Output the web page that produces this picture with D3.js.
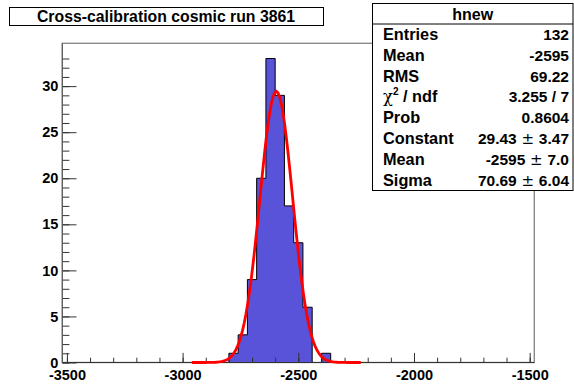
<!DOCTYPE html>
<html>
<head>
<meta charset="utf-8">
<script src="https://cdn.jsdelivr.net/npm/d3@7"></script>
<style>
  body { margin: 0; background: #fff; }
  svg { display: block; font-family: "Liberation Sans", Arial, Helvetica, sans-serif; }
  .lbl { font-weight: bold; }
</style>
</head>
<body>
<svg width="574" height="385"></svg>
<script>
// histogram hnew : bins of 40, axis range -3520 .. -1480
var binLow = [-2800, -2760, -2720, -2680, -2640, -2600, -2560, -2520, -2480, -2440, -2400];
var counts = [1, 3, 9, 20, 33, 29, 17, 13, 6, 0, 1];
var binWidth = 40;
var xRange = [-3520, -1480];
var yMax = 34.65;
var xMajor = [-3500, -3000, -2500, -2000, -1500];
var yMajor = [0, 5, 10, 15, 20, 25, 30];

// gaus fit result
var fitConstant = 29.43, fitMean = -2595, fitSigma = 70.69;
var fitRange = [-2960, -2230];

var titleText = "Cross-calibration cosmic run 3861";
var statName = "hnew";
var statLabels = ["Entries", "Mean", "RMS", "chi2", "Prob", "Constant", "Mean", "Sigma"];
var statValues = ["132", "-2595", "69.22", "3.255 / 7", "0.8604", "29.43 \u00b1 3.47", "-2595 \u00b1 7.0", "70.69 \u00b1 6.04"];

var svg = d3.select("svg"),
  margin = {top: 43.3, right: 39.7, bottom: 22.5, left: 62.3},
  width = +svg.attr("width") - margin.left - margin.right,
  height = +svg.attr("height") - margin.top - margin.bottom,
  g = svg.append("g").attr("transform", "translate(" + margin.left + "," + margin.top + ")");

var x = d3.scaleLinear().domain(xRange).range([0, width]);
var y = d3.scaleLinear().domain([0, yMax]).range([height, 0]);

// frame
g.append("rect")
  .attr("width", width).attr("height", height)
  .attr("fill", "none").attr("stroke", "#8a8a8a").attr("stroke-width", 1.4);

// bins as one step path (fill + outline)
var steps = [];
counts.forEach(function(c, i) {
  steps.push([binLow[i], c]);
  steps.push([binLow[i] + binWidth, c]);
});
steps.unshift([binLow[0], 0]);
steps.push([binLow[binLow.length - 1] + binWidth, 0]);
var stepLine = d3.line().x(function(d) { return x(d[0]); }).y(function(d) { return y(d[1]); });
g.append("path")
  .datum(steps)
  .attr("fill", "#5853d8").attr("stroke", "none")
  .attr("d", stepLine(steps) + "Z");
g.append("path")
  .datum(steps)
  .attr("fill", "none").attr("stroke", "#000").attr("stroke-width", 1)
  .attr("d", stepLine);

// axes
function noDomain(sel) { sel.select(".domain").remove(); }
var xa = g.append("g").attr("transform", "translate(0," + height + ")");
xa.append("g").call(d3.axisBottom(x).tickValues(d3.range(-3500, -1499, 100)).tickSize(-4.8).tickFormat("")).call(noDomain);
xa.append("g").call(d3.axisBottom(x).tickValues(xMajor).tickSize(-9.6).tickPadding(7)
  .tickFormat(function(d) { return String(d); })).call(noDomain);
var ya = g.append("g");
ya.append("g").call(d3.axisLeft(y).tickValues(d3.range(0, 34, 1)).tickSize(-7.1).tickFormat("")).call(noDomain);
ya.append("g").call(d3.axisLeft(y).tickValues(yMajor).tickSize(-14.2).tickPadding(4)
  .tickFormat(function(d) { return String(d); })).call(noDomain);
svg.selectAll(".tick line").attr("stroke", "#333");
svg.selectAll(".tick text").attr("class", "lbl").attr("font-size", 14.5).attr("fill", "#000")
  .attr("font-family", "'Liberation Sans', Arial, sans-serif");
g.append("line").attr("x1", 0).attr("x2", width).attr("y1", height).attr("y2", height).attr("stroke", "#333");
g.append("line").attr("x1", 0).attr("x2", 0).attr("y1", 0).attr("y2", height).attr("stroke", "#555");

// fit curve
var fitX = d3.range(0, 101).map(function(i) { return fitRange[0] + (fitRange[1] - fitRange[0]) * i / 100; });
g.append("path")
  .datum(fitX)
  .attr("fill", "none").attr("stroke", "#ff0000").attr("stroke-width", 2.8)
  .attr("d", d3.line()
    .x(function(d) { return x(d); })
    .y(function(d) { return y(fitConstant * Math.exp(-0.5 * Math.pow((d - fitMean) / fitSigma, 2))); }));

// title box
svg.append("rect").attr("x", 9.5).attr("y", 7.5).attr("width", 314).attr("height", 18)
  .attr("fill", "#fff").attr("stroke", "#000");
svg.append("text").attr("class", "lbl").attr("x", 166).attr("y", 21.8)
  .attr("text-anchor", "middle").attr("font-size", 15.8).text(titleText);

// stats box
var sb = {x: 372.5, y: 3.5, w: 200.5, h: 187, head: 20.5};
svg.append("rect").attr("x", sb.x).attr("y", sb.y).attr("width", sb.w).attr("height", sb.h)
  .attr("fill", "#fff").attr("stroke", "#000");
svg.append("line").attr("x1", sb.x).attr("x2", sb.x + sb.w).attr("y1", sb.y + sb.head).attr("y2", sb.y + sb.head)
  .attr("stroke", "#000");
svg.append("text").attr("class", "lbl").attr("x", sb.x + sb.w / 2).attr("y", sb.y + 16)
  .attr("text-anchor", "middle").attr("font-size", 16).text(statName);
var rowH = (sb.h - sb.head) / statLabels.length;
statLabels.forEach(function(l, i) {
  var yy = sb.y + sb.head + rowH * (i + 0.5) + 5.5;
  var t = svg.append("text").attr("class", "lbl").attr("x", sb.x + 10.5).attr("y", yy).attr("font-size", 16.3);
  if (l === "chi2") {
    t.append("tspan").attr("font-weight", "normal").attr("font-family", "'DejaVu Serif', serif").text("\u03c7");
    t.append("tspan").attr("font-size", 10).attr("dy", -7).text("2");
    t.append("tspan").attr("dy", 7).text(" / ndf");
  } else {
    t.text(l);
  }
  var v = svg.append("text").attr("class", "lbl").attr("x", sb.x + sb.w - 4).attr("y", yy)
    .attr("text-anchor", "end").attr("font-size", 15.5);
  var parts = statValues[i].split(" \u00b1 ");
  if (parts.length === 2) {
    v.append("tspan").text(parts[0]);
    v.append("tspan").attr("font-weight", "normal").attr("font-family", "'DejaVu Sans', sans-serif")
      .attr("font-size", 15).text(" \u00b1 ");
    v.append("tspan").text(parts[1]);
  } else {
    v.text(statValues[i]);
  }
});
</script>
</body>
</html>
